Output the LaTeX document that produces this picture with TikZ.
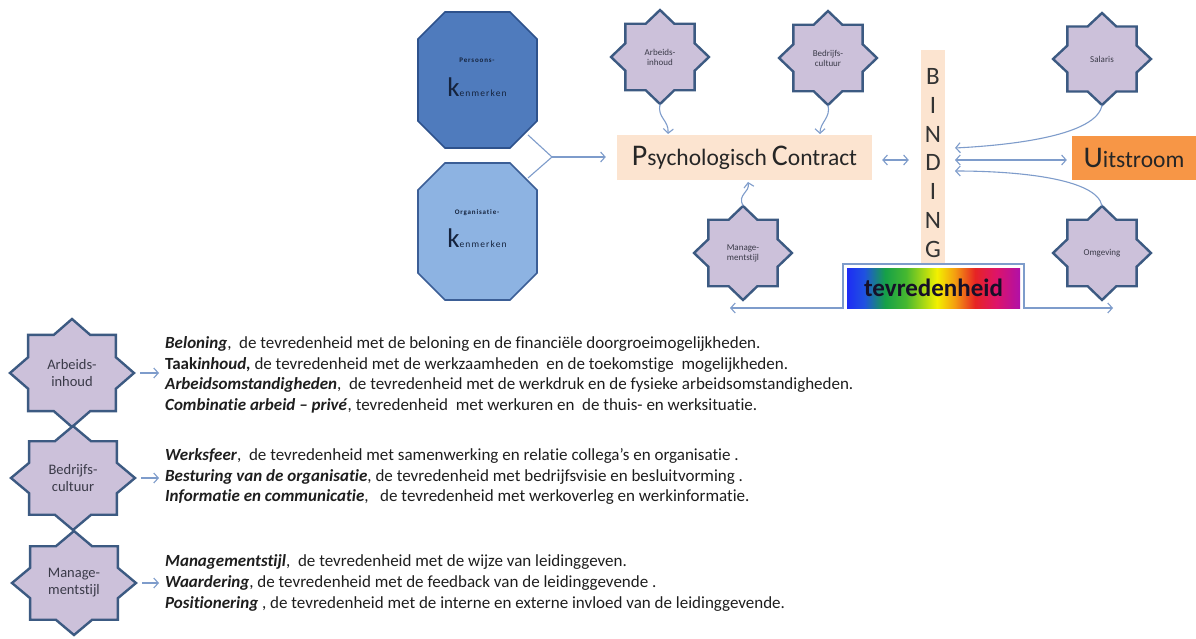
\documentclass[tikz,border=0pt]{standalone}
\usepackage{fontspec}
\setmainfont{Carlito}[Ligatures={NoCommon}]
\newfontfamily\spacedfont{Carlito}[LetterSpace=12, Ligatures={NoCommon}]
\usetikzlibrary{arrows.meta,calc}

\definecolor{octdark}{HTML}{4F7BBD}
\definecolor{octdarkline}{HTML}{2E528C}
\definecolor{octlight}{HTML}{8DB3E2}
\definecolor{octlightline}{HTML}{3B5E96}
\definecolor{octtext}{HTML}{15233D}
\definecolor{peach}{HTML}{FCE4D0}
\definecolor{outflow}{HTML}{F79646}
\definecolor{starfill}{HTML}{CCC1DA}
\definecolor{starline}{HTML}{3C5A82}
\definecolor{startext}{HTML}{3A3A48}
\definecolor{linkcol}{HTML}{7E9CCB}
\definecolor{bodytext}{HTML}{1E1E1E}
\definecolor{rbBlue}{HTML}{1E2CF5}
\definecolor{rbBlueB}{HTML}{1F52E0}
\definecolor{rbGreen}{HTML}{16A048}
\definecolor{rbGreenB}{HTML}{46B830}
\definecolor{rbYellow}{HTML}{F2F000}
\definecolor{rbOrange}{HTML}{F4A010}
\definecolor{rbRed}{HTML}{E62424}
\definecolor{rbRose}{HTML}{DE1468}
\definecolor{rbMag}{HTML}{B010A8}

% rainbow fill for the satisfaction bar (path maps onto 25bp..75bp)
\pgfdeclarehorizontalshading{rainbowbar}{100bp}{%
  color(0bp)=(rbBlue); color(25bp)=(rbBlue); color(30bp)=(rbBlueB);
  color(36bp)=(rbGreen); color(42bp)=(rbGreenB); color(51bp)=(rbYellow);
  color(56bp)=(rbOrange); color(62bp)=(rbRed); color(68bp)=(rbRose);
  color(75bp)=(rbMag); color(100bp)=(rbMag)}

\tikzset{
  link/.style={draw=linkcol, line width=1.1pt},
  tip/.tip={Straight Barb[length=4.5pt,width=10pt,line width=1.1pt]},
  starbody/.style={fill=starfill, draw=starline, line width=2.4pt, line join=miter},
  smallstar/.style={text=startext, align=center, font=\fontsize{9}{10}\selectfont},
  bigstar/.style={text=startext, align=center, font=\fontsize{14.5}{17}\selectfont},
  peachbox/.style={fill=peach, draw=none, inner sep=0pt},
  bodyblock/.style={anchor=west, align=left, inner sep=0pt, text=bodytext,
    font=\fontsize{17}{20.6}\selectfont},
}

% eight-pointed star: name, centre x, centre y, x radius, y radius, label, label style
\newcommand\eightstar[7]{%
  \draw[starbody] ({#2+#4},#3)
    \foreach \k in {1,...,15}{
      -- ({#2+cos(\k*22.5)*#4*ifthenelse(isodd(\k),0.765,1)},
          {#3+sin(\k*22.5)*#5*ifthenelse(isodd(\k),0.765,1)})
    } -- cycle;
  \node[#7] (#1) at (#2,#3) {#6};
  \coordinate (#1-n) at (#2,{#3-#5});
  \coordinate (#1-s) at (#2,{#3+#5});
  \coordinate (#1-e) at ({#2+#4},#3);
}

% octagon with cut corners: left, top, right, bottom, cut, fill, border
\newcommand\cutoctagon[7]{%
  \draw[fill=#6, draw=#7, line width=1.6pt, line join=miter]
    ({#1+#5},#2) -- ({#3-#5},#2) -- (#3,{#2+#5}) -- (#3,{#4-#5})
    -- ({#3-#5},#4) -- ({#1+#5},#4) -- (#1,{#4-#5}) -- (#1,{#2+#5}) -- cycle;
}

\newcommand\capword[2]{{\fontsize{30}{30}\selectfont #1}{\fontsize{23.5}{24}\selectfont #2}}
\newcommand\kline{{\fontsize{27}{27}\selectfont k}{\spacedfont\fontsize{9.5}{10}\selectfont enmerken}}

\begin{document}
\begin{tikzpicture}[x=1pt, y=-1pt]
\useasboundingbox (0,0) rectangle (1196,639);
\fill[white] (0,0) rectangle (1196,639);

% ---------- characteristics (octagons) ----------
\cutoctagon{418}{12}{537}{148}{27}{octdark}{octdarkline}
\node[text=octtext, font=\spacedfont\bfseries\fontsize{7}{8}\selectfont] (persLabel) at (477,60) {Persoons-};
\node[text=octtext, anchor=base, inner sep=0pt] (persK) at (477,97) {\kline};

\cutoctagon{418}{163}{537}{300}{27}{octlight}{octlightline}
\node[text=octtext, font=\spacedfont\bfseries\fontsize{7}{8}\selectfont] (orgLabel) at (477,213) {Organisatie-};
\node[text=octtext, anchor=base, inner sep=0pt] (orgK) at (477,247) {\kline};

% ---------- psychological contract ----------
\node[peachbox, minimum width=255pt, minimum height=45pt, text=black!85] (pc) at (744.5,157.5)
  {\capword{P}{sychologisch}\hspace{5pt}\capword{C}{ontract}};

\coordinate (forkA) at (528,135);
\coordinate (forkB) at (528,178);
\coordinate (forkJ) at (552,157);
\draw[link] (forkA) -- (forkJ);
\draw[link] (forkB) -- (forkJ);
\draw[link,-tip] (forkJ) -- ([xshift=-11pt]pc.west |- forkJ);

% ---------- influence stars around the contract ----------
\eightstar{arbTop}{660}{57}{49}{47}{Arbeids-\\inhoud}{smallstar}
\eightstar{bedTop}{828}{58}{49}{47}{Bedrijfs-\\cultuur}{smallstar}
\eightstar{mgtTop}{743}{253}{49}{47}{Manage-\\mentstijl}{smallstar}
\eightstar{sal}{1102}{59}{49}{46}{Salaris}{smallstar}
\eightstar{omg}{1102}{253}{49}{47}{Omgeving}{smallstar}

\coordinate (pcInA) at (668,134);
\coordinate (pcInB) at (820,134);
\coordinate (pcInC) at (748,182);
\draw[link,-tip] (arbTop-s) .. controls (657,118) and (669,120) .. (pcInA);
\draw[link,-tip] (bedTop-s) .. controls (831,118) and (820,122) .. (pcInB);
\draw[link,-tip] (mgtTop-n) .. controls (737,194) and (750,193) .. (pcInC);

% ---------- binding ----------
\node[peachbox, minimum width=24pt, minimum height=214pt] (binding) at (933,157) {};
\node[align=center, inner sep=0pt, text=black!80,
      font=\fontsize{25}{28.8}\selectfont] (bindingText) at (933,163)
  {B\\I\\N\\D\\I\\N\\G};

\draw[link,tip-tip] ([xshift=10pt]pc.east |- 0,160) -- ([xshift=-12pt]binding.west |- 0,160);

% ---------- outflow ----------
\node[fill=outflow, inner sep=0pt, minimum width=124pt, minimum height=44pt, text=black!85] (uit) at (1134,158)
  {\capword{U}{itstroom}};

\coordinate (bindOutA) at (955,148);
\coordinate (bindOutB) at (955,160);
\coordinate (bindOutC) at (955,171);
\draw[link,tip-tip] (bindOutB) -- ([xshift=-5pt]uit.west |- bindOutB);
\draw[link,-tip] (sal-s) .. controls (1097,135) and (1015,145) .. (bindOutA);
\draw[link,-tip] (omg-n) .. controls (1097,178) and (1015,171) .. (bindOutC);

% ---------- satisfaction ----------
\node[shading=rainbowbar, inner sep=0pt, minimum width=173pt, minimum height=40pt,
      text={rgb,255:red,22;green,16;blue,40}, font=\bfseries\fontsize{25}{25}\selectfont] (tev) at (933.5,288)
  {tevredenheid};
\coordinate (tevL) at (730,308);
\coordinate (tevLB) at (843,308);
\coordinate (tevLT) at (843,264);
\coordinate (tevRT) at (1024,264);
\coordinate (tevRB) at (1024,308);
\coordinate (tevR) at (1113,308);
\draw[link,tip-tip] (tevL) -- (tevLB) -- (tevLT) -- (tevRT) -- (tevRB) -- (tevR);

% ---------- explanation of the three factors ----------
\eightstar{arbLow}{72}{373}{62}{54}{Arbeids-\\inhoud}{bigstar}
\eightstar{bedLow}{73}{478}{62}{52}{Bedrijfs-\\cultuur}{bigstar}
\eightstar{mgtLow}{74}{583}{62}{52}{Manage-\\mentstijl}{bigstar}

\node[bodyblock] (txtArb) at (165,375) {%
  \textbf{\textit{Beloning}},~ de tevredenheid met de beloning en de financiële doorgroeimogelijkheden.\\
  \textbf{Taak\textit{inhoud,}} de tevredenheid met de werkzaamheden~ en de toekomstige~ mogelijkheden.\\
  \textbf{\textit{Arbeidsomstandigheden}},~ de tevredenheid met de werkdruk en de fysieke arbeidsomstandigheden.\\
  \textbf{\textit{Combinatie arbeid – privé}}, tevredenheid~ met werkuren en~ de thuis- en werksituatie.};

\node[bodyblock] (txtBed) at (165,476.5) {%
  \textbf{\textit{Werksfeer}},~ de tevredenheid met samenwerking en relatie collega’s en organisatie~.\\
  \textbf{\textit{Besturing van de organisatie}}, de tevredenheid met bedrijfsvisie en besluitvorming~.\\
  \textbf{\textit{Informatie en communicatie}},~~ de tevredenheid met werkoverleg en werkinformatie.};

\node[bodyblock] (txtMgt) at (165,583) {%
  \textbf{\textit{Managementstijl}},~ de tevredenheid met de wijze van leidinggeven.\\
  \textbf{\textit{Waardering}}, de tevredenheid met de feedback van de leidinggevende~.\\
  \textbf{\textit{Positionering}}~, de tevredenheid met de interne en externe invloed van de leidinggevende.};

\draw[link,-tip] ([xshift=6pt]arbLow-e) -- ([xshift=-6pt]arbLow-e -| txtArb.west);
\draw[link,-tip] ([xshift=6pt]bedLow-e) -- ([xshift=-6pt]bedLow-e -| txtBed.west);
\draw[link,-tip] ([xshift=6pt]mgtLow-e) -- ([xshift=-6pt]mgtLow-e -| txtMgt.west);
\end{tikzpicture}
\end{document}
